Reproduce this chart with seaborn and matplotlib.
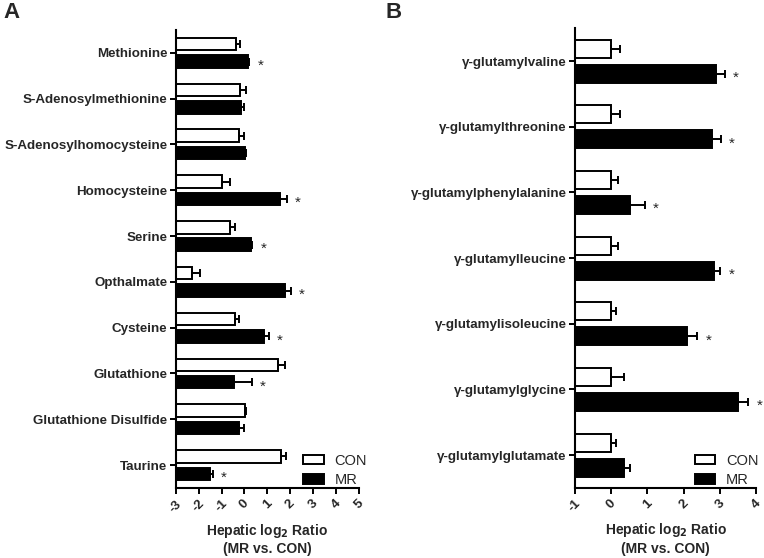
import numpy as np
import pandas as pd
import matplotlib
matplotlib.use("Agg")
import matplotlib.pyplot as plt
from matplotlib.patches import Patch
import seaborn as sns

sns.set_theme(style="ticks")
plt.rcParams['font.family'] = ['Liberation Sans', 'DejaVu Sans']

# ---------------- data ----------------
groups = ["CON", "MR"]

a_metabolites = ["Methionine", "S-Adenosylmethionine", "S-Adenosylhomocysteine",
                 "Homocysteine", "Serine", "Opthalmate", "Cysteine", "Glutathione",
                 "Glutathione Disulfide", "Taurine"]
a_con = [-0.35, -0.20, -0.25, -0.96, -0.61, -2.31, -0.42, 1.47, 0.03, 1.61]
a_con_err = [0.16, 0.28, 0.25, 0.33, 0.20, 0.35, 0.17, 0.30, 0.04, 0.20]
a_mr = [0.16, -0.15, 0.03, 1.53, 0.28, 1.75, 0.84, -0.45, -0.22, -1.51]
a_mr_err = [0.04, 0.15, 0.05, 0.32, 0.06, 0.26, 0.22, 0.77, 0.22, 0.13]
a_sig = [True, False, False, True, True, True, True, True, False, True]
a_ticks = [-3, -2, -1, 0, 1, 2, 3, 4, 5]

b_metabolites = ["γ-glutamylvaline", "γ-glutamylthreonine", "γ-glutamylphenylalanine",
                 "γ-glutamylleucine", "γ-glutamylisoleucine", "γ-glutamylglycine",
                 "γ-glutamylglutamate"]
b_con = [0.0, 0.0, 0.0, 0.0, 0.0, 0.0, 0.0]
b_con_err = [0.24, 0.24, 0.20, 0.20, 0.13, 0.36, 0.13]
b_mr = [2.89, 2.78, 0.53, 2.83, 2.10, 3.49, 0.35]
b_mr_err = [0.25, 0.25, 0.39, 0.18, 0.27, 0.29, 0.17]
b_sig = [True, True, True, True, True, True, False]
b_ticks = [-1, 0, 1, 2, 3, 4]

x_label = "Hepatic log$_\\mathbf{2}$ Ratio\n(MR vs. CON)"
colors = {"CON": "white", "MR": "black"}


def panel(ax, cats, con, con_err, mr, mr_err, sig, ticks, letter, letter_x, leg_anchor):
    df = pd.DataFrame({
        "metabolite": cats * 2,
        "group": ["CON"] * len(cats) + ["MR"] * len(cats),
        "value": list(con) + list(mr),
    })
    xmin, xmax = ticks[0], ticks[-1]
    sns.barplot(data=df, y="metabolite", x="value", hue="group", order=cats,
                hue_order=groups, palette=colors, orient="h", width=0.76, gap=0.28,
                edgecolor="black", linewidth=1.4, errorbar=None, legend=False, ax=ax)
    errs = {"CON": con_err, "MR": mr_err}
    vals = {"CON": con, "MR": mr}
    for g, cont in zip(groups, ax.containers):
        ys = []
        for bar in cont:
            w = bar.get_width()
            x0 = bar.get_x()
            bar.set_x(xmin)
            bar.set_width(x0 + w - xmin)
            ys.append(bar.get_y() + bar.get_height() / 2)
        ys = np.array(ys)
        v = np.array(vals[g])
        e = np.array(errs[g])
        ax.errorbar(v, ys, xerr=[np.zeros_like(e), e], fmt="none", ecolor="black",
                    elinewidth=1.4, capsize=3.2, capthick=1.4, zorder=1)
        if g == "MR":
            for xv, ev, yv, s in zip(v, e, ys, sig):
                if s:
                    ax.annotate("*", (xv + ev, yv), xytext=(6, -3),
                                textcoords="offset points", ha="left", va="center",
                                fontsize=11)
    ax.set_xlim(xmin, xmax)
    ax.set_ylim(len(cats) - 0.5, -0.5)
    ax.set_xticks(ticks)
    ax.set_xticklabels([str(t) for t in ticks], rotation=45, ha="center",
                       fontsize=9.5, fontweight="bold")
    ax.set_yticks(range(len(cats)))
    ax.set_yticklabels(cats, fontsize=9.6, fontweight="bold")
    ax.set_ylabel("")
    ax.set_xlabel(x_label, fontsize=10, fontweight="bold", labelpad=5,
                  linespacing=1.25)
    sns.despine(ax=ax)
    for s in ["left", "bottom"]:
        ax.spines[s].set_linewidth(1.5)
        ax.spines[s].set_color("black")
    ax.tick_params(axis="both", length=4, width=1.4, color="black", pad=2)
    ax.tick_params(axis="x", pad=3)
    handles = [Patch(facecolor="white", edgecolor="black", linewidth=1.4, label="CON"),
               Patch(facecolor="black", edgecolor="black", linewidth=1.4, label="MR")]
    ax.legend(handles=handles, loc="lower right", bbox_to_anchor=leg_anchor,
              frameon=False, fontsize=10.5,
              handlelength=1.4, handleheight=0.65, handletextpad=0.75,
              labelspacing=0.35, borderaxespad=0.0)
    ax.figure.text(letter_x, 0.997, letter, fontsize=16, fontweight="bold",
                   ha="left", va="top")


fig = plt.figure(figsize=(7.64, 5.58), dpi=100)
ax_a = fig.add_axes([0.230, 0.1254, 0.240, 0.821])
ax_b = fig.add_axes([0.7526, 0.1254, 0.2370, 0.824])

panel(ax_a, a_metabolites, a_con, a_con_err, a_mr, a_mr_err, a_sig, a_ticks, "A", 0.004,
      (1.075, -0.01))
panel(ax_b, b_metabolites, b_con, b_con_err, b_mr, b_mr_err, b_sig, b_ticks, "B", 0.505,
      (1.045, -0.01))

fig.savefig("out.png", dpi=100)
